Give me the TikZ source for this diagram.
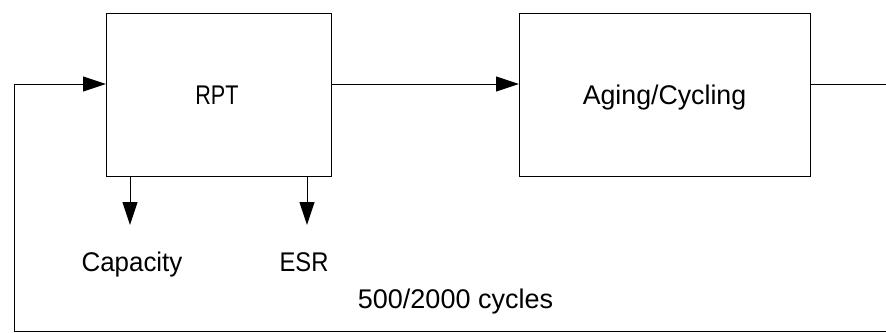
\documentclass[tikz,border=0pt]{standalone}
\usepackage{fontspec}
\setmainfont{Liberation Sans}
\usetikzlibrary{arrows.meta}
\begin{document}
\begin{tikzpicture}[x=1pt,y=-1pt,
  blk/.style={draw=black,line width=1.3pt,minimum width=225pt,minimum height=163pt,inner sep=0pt,anchor=north west},
  conn/.style={draw=black,line width=1pt},
  tip/.style={-{Triangle[length=23pt,width=15pt]}},
  lbl/.style={inner sep=0pt,anchor=base,font=\fontsize{27}{29}\selectfont}]
\useasboundingbox (0,0) rectangle (886,332);
\fill[white] (0,0) rectangle (886,332);
\node[blk] (rpt) at (106,13) {};
\node[lbl] (rpttxt) at (217,104) {\scalebox{0.8}[1]{RPT}};
\node[blk,minimum width=291pt] (aging) at (519,13) {};
\node[lbl] (agingtxt) at (664.5,104) {\scalebox{0.99}[1]{Aging/Cycling}};
\node[lbl] (cap) at (132,271) {\scalebox{0.96}[1]{Capacity}};
\node[lbl] (esr) at (304,271) {\scalebox{0.88}[1]{ESR}};
\node[lbl] (cyc) at (455.5,308) {\scalebox{1.0}[1]{500/2000 cycles}};
\coordinate (capend) at (130,225);
\coordinate (esrend) at (307,225);
\coordinate (r1) at (892,84);
\coordinate (r2) at (892,331);
\coordinate (l1) at (14,331);
\coordinate (l2) at (14,84);
\draw[conn,tip] (rpt.east |- l2) -- (aging.west |- l2);
\draw[conn,tip] (rpt.south -| capend) -- (capend);
\draw[conn,tip] (rpt.south -| esrend) -- (esrend);
\draw[conn,tip] (aging.east |- r1) -- (r1) -- (r2) -- (l1) -- (l2) -- (rpt.west |- l2);
\end{tikzpicture}
\end{document}
